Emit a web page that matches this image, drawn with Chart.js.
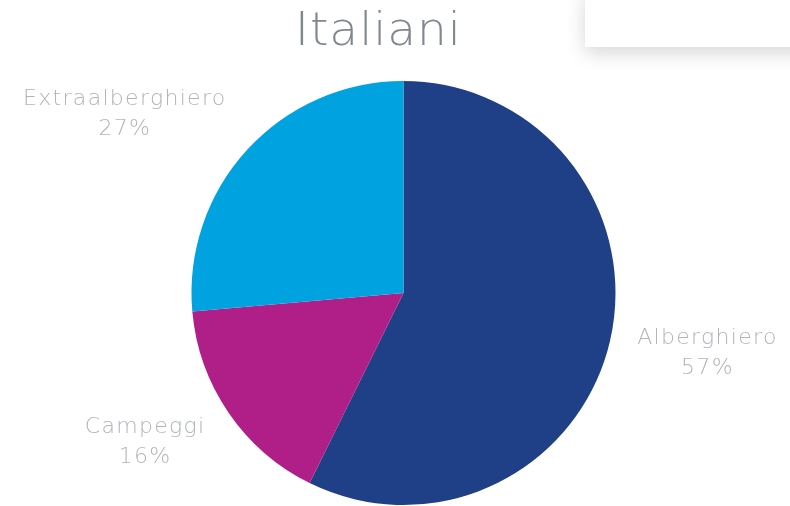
<!DOCTYPE html>
<html>
<head>
<meta charset="utf-8">
<script src="https://cdn.jsdelivr.net/npm/chart.js@4.4.0/dist/chart.umd.min.js"></script>
<style>
	body{ margin:0; background:#fff; overflow:hidden; }
	#contenedor{ position:relative; width:790px; height:506px; }
	#titulo{
		position:absolute; left:0; top:1px; width:757px; text-align:center;
		font-family:"DejaVu Sans"; font-weight:200; font-size:47px; letter-spacing:1px; color:#7f878f;
	}
	#caja{
		position:absolute; left:585px; top:-10px; width:230px; height:57px;
		background:#fff; box-shadow:0 6px 18px rgba(0,0,0,0.16);
	}
	canvas{ position:absolute; left:0; top:0; }
</style>
</head>
<body>
<div id="contenedor">
	<canvas id="grafico" width="790" height="506"></canvas>
	<div id="titulo">Italiani</div>
	<div id="caja"></div>
</div>
<script>
const categorias = ["Alberghiero", "Campeggi", "Extraalberghiero"]
const valores = [57.3, 16.3, 26.4]
const porcentajes = ["57%", "16%", "27%"]
const colores = ["#1f3f87", "#b01f88", "#00a3e0"]

// etiquetas fuera de cada sector
const etiquetasFuera = {
	id: "etiquetasFuera",
	afterDatasetsDraw(chart){
		const ctx = chart.ctx
		const meta = chart.getDatasetMeta(0)
		ctx.save()
		ctx.font = "200 22px 'DejaVu Sans'"
		ctx.letterSpacing = "1.3px"
		ctx.fillStyle = "#b0b5ba"
		ctx.textAlign = "center"
		ctx.textBaseline = "middle"
		meta.data.forEach((arco, i) => {
			const p = arco.getProps(["x", "y", "startAngle", "endAngle", "outerRadius"], true)
			const medio = (p.startAngle + p.endAngle) / 2
			const dist = p.outerRadius + 28
			const px = p.x + Math.cos(medio) * dist
			const py = p.y + Math.sin(medio) * dist * 1.1
			const ancho = Math.max(ctx.measureText(categorias[i]).width, ctx.measureText(porcentajes[i]).width)
			const cx = Math.cos(medio) < 0 ? px - ancho / 2 : px + ancho / 2
			ctx.fillText(categorias[i], cx, py - 15)
			ctx.fillText(porcentajes[i], cx, py + 15)
		})
		ctx.restore()
	}
}

new Chart("grafico", {
	type: "pie",
	data: {
		labels: categorias,
		datasets: [{
			data: valores,
			backgroundColor: colores,
			borderWidth: 0
		}]
	},
	options: {
		responsive: false,
		animation: false,
		layout: { padding: { top: 81, bottom: 1, left: 191, right: 174 } },
		plugins: {
			legend: { display: false },
			tooltip: { enabled: false }
		}
	},
	plugins: [etiquetasFuera]
})
</script>
</body>
</html>
